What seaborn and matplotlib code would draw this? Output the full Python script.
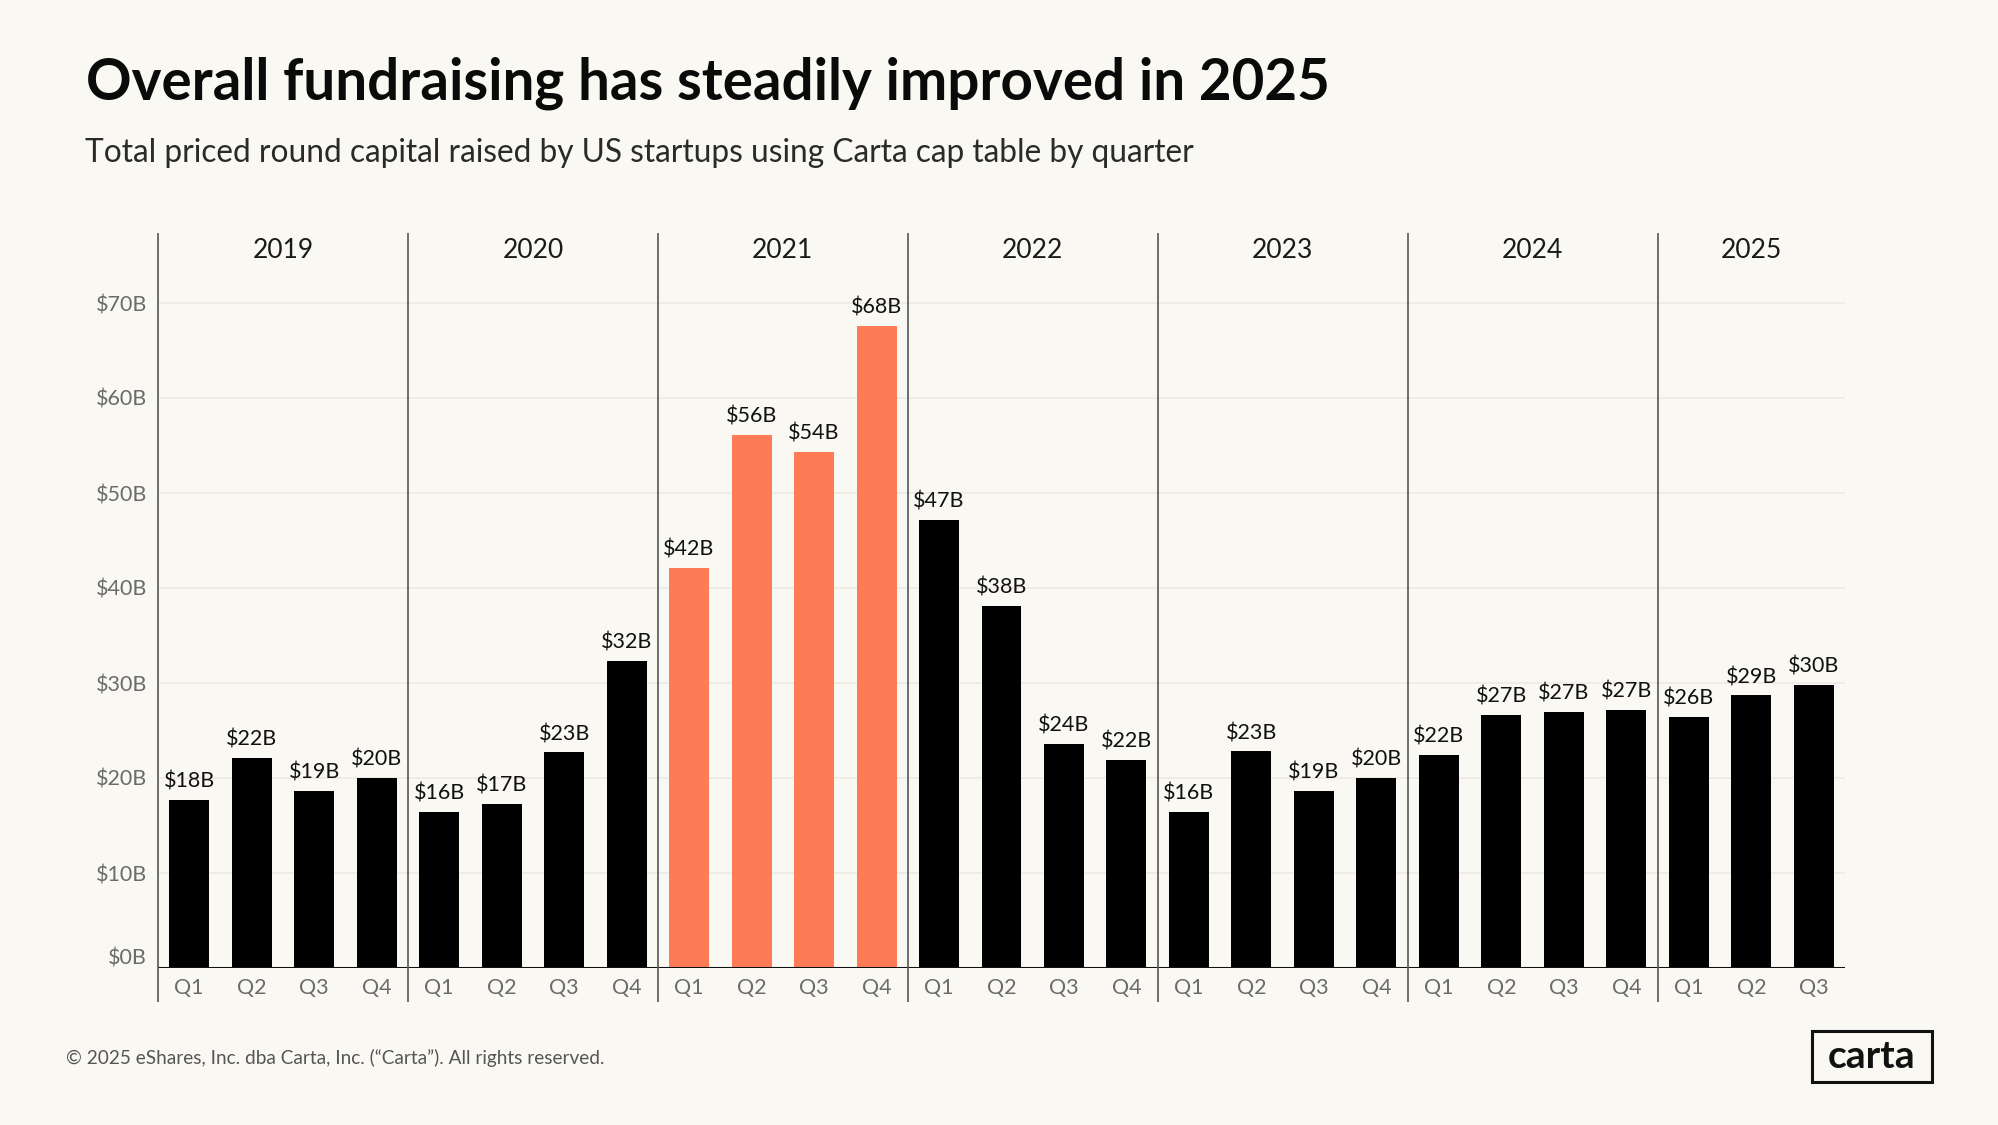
import matplotlib
matplotlib.use("Agg")
import matplotlib.pyplot as plt
import seaborn as sns
import pandas as pd
import numpy as np
from matplotlib.patches import Rectangle
from matplotlib.transforms import ScaledTranslation

# ---------------- data ----------------
years = ["2019", "2020", "2021", "2022", "2023", "2024", "2025"]
quarters_per_year = [4, 4, 4, 4, 4, 4, 3]
quarter_names = ["Q1", "Q2", "Q3", "Q4"]
values_2019 = [17.7, 22.1, 18.6, 20.0]
values_2020 = [16.4, 17.3, 22.7, 32.3]
values_2021 = [42.1, 56.1, 54.3, 67.6]
values_2022 = [47.2, 38.1, 23.6, 21.9]
values_2023 = [16.4, 22.8, 18.6, 20.0]
values_2024 = [22.4, 26.6, 27.0, 27.2]
values_2025 = [26.4, 28.7, 29.8]
value_labels = ["$18B", "$22B", "$19B", "$20B",
                "$16B", "$17B", "$23B", "$32B",
                "$42B", "$56B", "$54B", "$68B",
                "$47B", "$38B", "$24B", "$22B",
                "$16B", "$23B", "$19B", "$20B",
                "$22B", "$27B", "$27B", "$27B",
                "$26B", "$29B", "$30B"]
highlight_year = "2021"
y_ticks = [0, 10, 20, 30, 40, 50, 60, 70]
y_tick_labels = ["$0B", "$10B", "$20B", "$30B", "$40B", "$50B", "$60B", "$70B"]

title = "Overall fundraising has steadily improved in 2025"
subtitle = "Total priced round capital raised by US startups using Carta cap table by quarter"
footer = "\u00a9 2025 eShares, Inc. dba Carta, Inc. (\u201cCarta\u201d). All rights reserved."

all_values = [values_2019, values_2020, values_2021, values_2022,
              values_2023, values_2024, values_2025]
rows = []
for yr, n, vals in zip(years, quarters_per_year, all_values):
    for q in range(n):
        rows.append({"period": f"{yr} {quarter_names[q]}", "year": yr,
                     "quarter": quarter_names[q], "value": vals[q],
                     "hl": "hl" if yr == highlight_year else "base"})
df = pd.DataFrame(rows)

# ---------------- style ----------------
BG = "#FAF8F2"
ORANGE = "#FE7B56"
GRAY = "#6B6B6B"
sns.set_theme(style="white")
plt.rcParams["font.family"] = ["Lato", "DejaVu Sans"]

W, H = 1999, 1125
fig = plt.figure(figsize=(W / 100, H / 100), dpi=100, facecolor=BG)

left_px, right_px = 158, 1845
base_px, top_px = 968, 233
px_per_unit = 9.5
ytop = (base_px - top_px) / px_per_unit
ax = fig.add_axes([left_px / W, 1 - base_px / H, (right_px - left_px) / W, (base_px - top_px) / H])
ax.set_facecolor(BG)

sns.barplot(data=df, x="period", y="value", hue="hl", order=list(df["period"]),
            palette={"base": "#000000", "hl": ORANGE}, dodge=False, width=0.64,
            linewidth=0, saturation=1, legend=False, ax=ax)

n = len(df)
ax.set_xlim(-0.5, n - 0.5)
ax.set_ylim(0, ytop)
for s in ax.spines.values():
    s.set_visible(False)

# gridlines
for t in y_ticks[1:]:
    ax.axhline(t, color="#ECEAE2", lw=1.2, zorder=0)
ax.axhline(0, color="#111111", lw=2.2, zorder=3)

# y ticks
ax.set_yticks(y_ticks)
ax.set_yticklabels(y_tick_labels, fontsize=15.5, color=GRAY)
ax.tick_params(axis="y", length=0, pad=8)
# shift $0B label slightly up
lbl0 = ax.get_yticklabels()[0]
lbl0.set_transform(lbl0.get_transform() + ScaledTranslation(0, 8 / 72, fig.dpi_scale_trans))

# x ticks
ax.set_xticks(range(n))
ax.set_xticklabels(list(df["quarter"]), fontsize=15.5, color=GRAY)
ax.tick_params(axis="x", length=0, pad=7)
ax.set_xlabel("")
ax.set_ylabel("")

# value labels
for i, (v, lab) in enumerate(zip(df["value"], value_labels)):
    ax.annotate(lab, (i, v), xytext=(0, 6), textcoords="offset points",
                ha="center", va="bottom", fontsize=15.5, color="#111111")

# year dividers and labels
bottom_ext = -(1002 - base_px) / px_per_unit
year_label_y = (base_px - 250) / px_per_unit
start = 0
for yr, nq in zip(years, quarters_per_year):
    ax.vlines(start - 0.5, bottom_ext, ytop, color="#555555", lw=1.2, clip_on=False, zorder=4)
    ax.text(start + (nq - 1) / 2, year_label_y, yr, ha="center", va="center",
            fontsize=19, color="#1A1A1A")
    start += nq

# title / subtitle with width fitting
renderer = fig.canvas.get_renderer()

def fit(txt, target_w):
    w = txt.get_window_extent(renderer=renderer).width
    txt.set_fontsize(txt.get_fontsize() * target_w / w)

t1 = fig.text(86 / W, 1 - 83 / H, title, fontsize=40, fontweight="bold",
              color="#0A0A0A", ha="left", va="center")
fit(t1, 1330 - 86)
t2 = fig.text(85 / W, 1 - 153 / H, subtitle, fontsize=23, color="#2A2A2A",
              ha="left", va="center")
fit(t2, 1195 - 85)
t3 = fig.text(66 / W, 1 - 1058 / H, footer, fontsize=12, color="#555555",
              ha="left", va="center")
fit(t3, 601 - 66)

# carta logo
fig.patches.append(Rectangle((1812 / W, 1 - 1082 / H), 120 / W, 51 / H,
                             transform=fig.transFigure, fill=False,
                             edgecolor="#111111", lw=2.2))
t4 = fig.text(1872 / W, 1 - 1057 / H, "carta", fontsize=22, fontweight="bold",
              color="#111111", ha="center", va="center")
fit(t4, 87)

fig.savefig("out.png", dpi=100, facecolor=BG)
